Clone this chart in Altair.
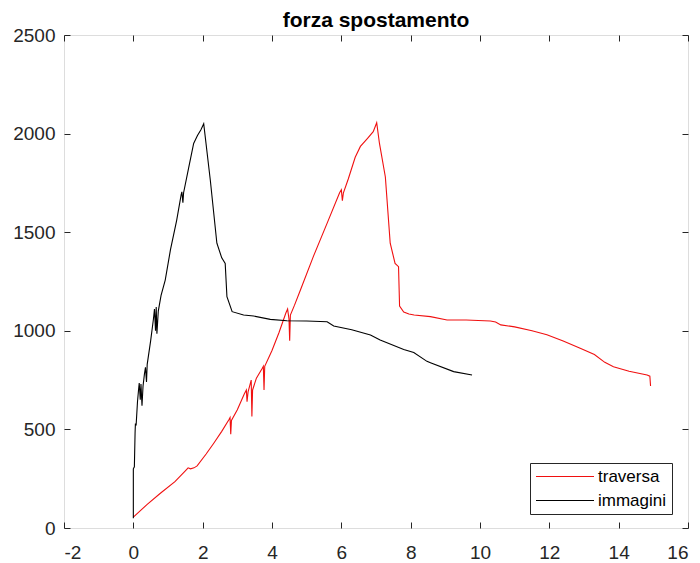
import altair as alt
import pandas as pd

# Force vs displacement: crosshead ("traversa") and image-based ("immagini") readings
x_traversa = [0.00, 0.40, 0.78, 1.20, 1.50, 1.58, 1.65, 1.75, 1.84, 2.10, 2.32, 2.55,
              2.76, 2.79, 2.81, 2.83, 3.00, 3.20, 3.26, 3.28, 3.31, 3.40, 3.42, 3.44,
              3.55, 3.72, 3.75, 3.77, 3.79, 4.00, 4.20, 4.40, 4.45, 4.49, 4.51, 4.53,
              4.65, 4.82, 5.20, 5.60, 5.95, 6.00, 6.03, 6.06, 6.20, 6.40, 6.55, 6.75,
              6.92, 7.02, 7.10, 7.27, 7.41, 7.55, 7.65, 7.68, 7.80, 7.95, 8.10, 8.57,
              9.05, 9.60, 10.30, 10.45, 10.60, 11.00, 11.50, 11.93, 12.40, 12.89, 13.30,
              13.60, 13.85, 14.30, 14.82, 14.90, 14.92]
y_traversa = [55, 120, 176, 235, 290, 305, 300, 305, 315, 375, 430, 490,
              550, 560, 475, 545, 600, 680, 700, 640, 690, 750, 565, 700,
              760, 810, 820, 700, 820, 900, 990, 1090, 1110, 1060, 950, 1080,
              1130, 1207, 1380, 1550, 1700, 1715, 1660, 1700, 1770, 1880, 1935, 1975,
              2010, 2055, 1950, 1780, 1444, 1342, 1325, 1125, 1095, 1085, 1080, 1072,
              1055, 1055, 1050, 1045, 1030, 1020, 1000, 980, 948, 911, 880,
              840, 818, 795, 776, 770, 720]

x_immagini = [0.00, 0.00, 0.03, 0.05, 0.06, 0.08, 0.12, 0.15, 0.17, 0.20, 0.22, 0.25,
              0.28, 0.32, 0.35, 0.38, 0.40, 0.50, 0.58, 0.61, 0.64, 0.66, 0.68, 0.72,
              0.80, 0.92, 1.07, 1.25, 1.38, 1.40, 1.43, 1.45, 1.60, 1.74, 1.85, 1.95,
              2.03, 2.22, 2.41, 2.55, 2.65, 2.70, 2.85, 3.18, 3.47, 3.95, 4.43, 5.00,
              5.59, 5.78, 6.30, 6.84, 7.12, 7.80, 8.09, 8.47, 8.57, 9.24, 9.77]
y_immagini = [50, 300, 310, 480, 530, 520, 640, 700, 735, 650, 730, 620,
              720, 780, 815, 740, 830, 950, 1060, 1110, 1000, 1120, 985, 1100,
              1180, 1257, 1410, 1560, 1690, 1705, 1650, 1700, 1830, 1950, 1990, 2020,
              2050, 1765, 1444, 1370, 1342, 1173, 1097, 1080, 1075, 1058, 1051, 1050,
              1046, 1024, 1005, 979, 953, 905, 890, 845, 838, 793, 776]

series_names = ["traversa", "immagini"]
series_colors = ["#f01010", "#000000"]

x_ticks = list(range(-2, 17, 2))
y_ticks = list(range(0, 2501, 500))

rows = []
for i, (xv, yv) in enumerate(zip(x_traversa, y_traversa)):
    rows.append({"spostamento": xv, "forza": yv, "serie": "traversa", "i": i})
for i, (xv, yv) in enumerate(zip(x_immagini, y_immagini)):
    rows.append({"spostamento": xv, "forza": yv, "serie": "immagini", "i": i})
df = pd.DataFrame(rows)

FONT = "Liberation Sans"
INK = "#262626"
PLAIN = "'' + datum.value"   # plain numbers: hyphen minus, no thousands separator

x_scale = alt.Scale(domain=[-2, 16], nice=False, zero=False)
y_scale = alt.Scale(domain=[0, 2500], nice=False, zero=False)

base = alt.Chart(df)

lines = base.mark_line(strokeWidth=1.1).encode(
    x=alt.X("spostamento:Q", scale=x_scale,
            axis=alt.Axis(orient="bottom", values=x_ticks, title=None, ticks=False,
                          tickSize=0, domain=False, grid=False, labelPadding=15,
                          labelExpr=PLAIN, labelFontSize=19, labelFont=FONT,
                          labelColor=INK)),
    y=alt.Y("forza:Q", scale=y_scale,
            axis=alt.Axis(orient="left", values=y_ticks, title=None, ticks=False,
                          tickSize=0, domain=False, grid=False, labelPadding=9,
                          labelExpr=PLAIN, labelFontSize=19, labelFont=FONT,
                          labelColor=INK)),
    color=alt.Color("serie:N",
                    scale=alt.Scale(domain=series_names, range=series_colors),
                    sort=series_names,
                    legend=alt.Legend(title=None, orient="none", legendX=466, legendY=428,
                                      symbolType="stroke", symbolSize=3364,
                                      symbolStrokeWidth=1.2, clipHeight=17, rowPadding=6,
                                      padding=5, labelOffset=3, labelFontSize=17,
                                      labelFont=FONT, labelColor="#000000",
                                      strokeColor=INK, fillColor="white")),
    order="i:Q",
)


def tick_axis(orient):
    # tick marks pointing into the plot box, no labels
    return alt.Axis(orient=orient, values=x_ticks if orient in ("top", "bottom") else y_ticks,
                    title=None, labels=False, domain=False, grid=False, ticks=True,
                    tickSize={"expr": "-6"}, tickColor=INK, tickWidth=1, minExtent=0)


ticks_bl = base.mark_line(opacity=0).encode(
    x=alt.X("spostamento:Q", scale=x_scale, axis=tick_axis("bottom")),
    y=alt.Y("forza:Q", scale=y_scale, axis=tick_axis("left")),
)
ticks_tr = base.mark_line(opacity=0).encode(
    x=alt.X("spostamento:Q", scale=x_scale, axis=tick_axis("top")),
    y=alt.Y("forza:Q", scale=y_scale, axis=tick_axis("right")),
)

chart = alt.layer(lines, ticks_bl, ticks_tr).resolve_axis(
    x="independent", y="independent"
).properties(
    width=624,
    height=493,
    padding={"left": 64, "top": 35, "right": 12, "bottom": 35},
    autosize=alt.AutoSizeParams(type="none"),
    title=alt.TitleParams("forza spostamento", font=FONT, fontSize=21, fontWeight="bold",
                          color="#000000", anchor="middle", offset=-5),
).configure_view(
    stroke=INK, strokeWidth=1
).configure(background="white")

chart.save("out.html", embed_options={"renderer": "svg", "actions": False})
